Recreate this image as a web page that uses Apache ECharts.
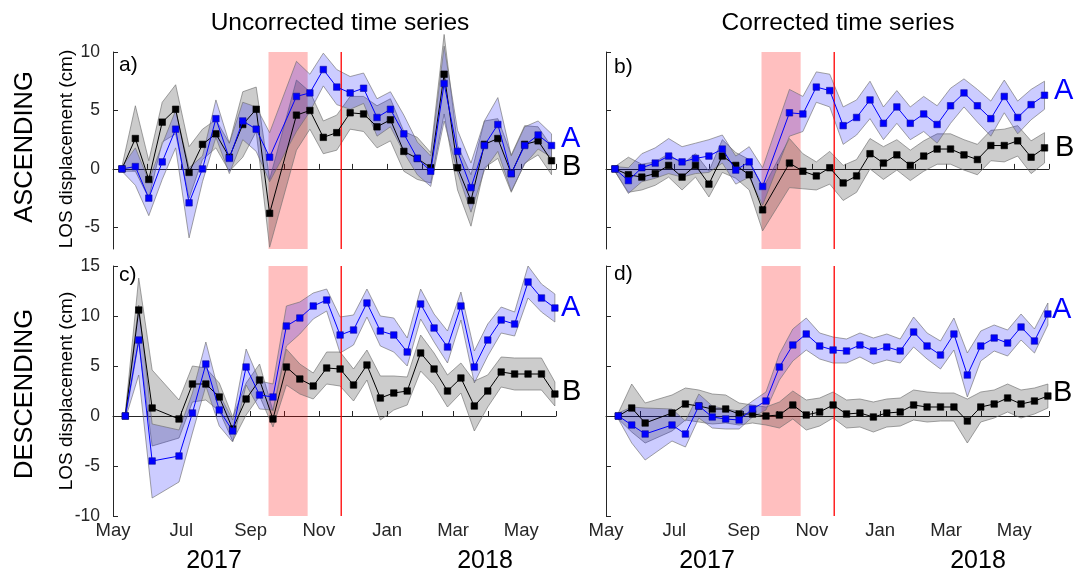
<!DOCTYPE html>
<html><head><meta charset="utf-8">
<script src="https://cdn.jsdelivr.net/npm/echarts@6/dist/echarts.min.js"></script>
<style>html,body{margin:0;padding:0;background:#fff}#c{width:1084px;height:573px}</style>
</head><body><div id="c"></div>
<script>
const ascDates = ['2017-05-09','2017-05-21','2017-06-02','2017-06-14','2017-06-26','2017-07-08','2017-07-20','2017-08-01','2017-08-13','2017-08-25','2017-09-06','2017-09-18','2017-10-12','2017-10-24','2017-11-05','2017-11-17','2017-11-29','2017-12-11','2017-12-23','2018-01-04','2018-01-16','2018-01-28','2018-02-09','2018-02-21','2018-03-05','2018-03-17','2018-03-29','2018-04-10','2018-04-22','2018-05-04','2018-05-16','2018-05-28'];
const descDates = ['2017-05-12','2017-05-24','2017-06-05','2017-06-29','2017-07-11','2017-07-23','2017-08-04','2017-08-16','2017-08-28','2017-09-09','2017-09-21','2017-10-03','2017-10-15','2017-10-27','2017-11-08','2017-11-20','2017-12-02','2017-12-14','2017-12-26','2018-01-07','2018-01-19','2018-01-31','2018-02-12','2018-02-24','2018-03-08','2018-03-20','2018-04-01','2018-04-13','2018-04-25','2018-05-07','2018-05-19','2018-05-31'];

// a) ascending, uncorrected
const aA = [0, 0.2, -2.5, 0.6, 3.4, -2.9, 0.0, 4.3, 0.9, 4.1, 3.4, 1.0, 6.2, 6.5, 8.5, 7.0, 6.5, 6.9, 4.4, 5.1, 3.0, 0.9, -0.2, 7.3, 1.5, -1.6, 2.0, 3.8, -0.4, 2.0, 2.9, 2.0];
const aB = [0, 2.6, -0.9, 4.0, 5.1, -0.3, 2.1, 3.0, 1.0, 3.8, 5.1, -3.8, 4.6, 5.0, 2.7, 3.1, 4.8, 4.7, 3.6, 4.2, 1.5, 0.9, 0.1, 8.1, 0.1, -2.7, 2.1, 2.6, -0.4, 2.1, 2.4, 0.7];
const aAerr = [0.2, 1.6, 1.5, 1.5, 1.6, 3.0, 1.1, 1.6, 1.3, 1.6, 1.9, 2.1, 3.0, 1.6, 1.4, 1.5, 1.4, 1.3, 1.6, 1.5, 1.6, 1.4, 1.3, 3.2, 1.8, 2.1, 2.1, 2.3, 1.5, 1.6, 1.2, 1.0];
const aBerr = [0.2, 2.8, 1.6, 1.7, 2.1, 2.2, 1.3, 1.2, 1.2, 2.8, 1.9, 2.9, 3.0, 1.6, 1.4, 1.5, 1.4, 1.5, 1.8, 1.8, 1.7, 1.8, 1.3, 3.4, 1.9, 2.2, 2.0, 1.7, 1.6, 1.6, 1.2, 1.2];
// b) ascending, corrected
const bA = [0, -1.0, 0.1, 0.5, 1.1, 0.6, 0.9, 1.1, 1.7, -0.1, 0.6, -1.5, 4.8, 4.7, 7.0, 6.7, 3.7, 4.4, 5.9, 3.9, 5.3, 3.9, 4.7, 3.8, 5.4, 6.5, 5.4, 4.3, 6.2, 4.4, 5.5, 6.3];
const bB = [0, -0.5, -0.7, -0.4, 0.3, -0.7, 0.3, -1.3, 1.1, 0.3, -0.5, -3.5, 0.5, -0.2, -0.6, 0.1, -1.2, -0.6, 1.3, 0.5, 1.2, 0.3, 1.1, 1.7, 1.7, 1.2, 0.8, 2.0, 2.0, 2.4, 1.0, 1.8];
const bAerr = [0.2, 1.1, 1.2, 1.3, 1.5, 1.3, 1.3, 1.4, 1.2, 1.2, 1.3, 1.6, 2.0, 1.5, 1.3, 1.4, 1.6, 1.5, 1.6, 1.4, 1.4, 1.4, 1.5, 1.6, 1.5, 1.2, 1.4, 1.5, 1.4, 1.4, 1.3, 1.2];
const bBerr = [0.2, 1.5, 1.1, 1.0, 1.0, 1.1, 1.0, 1.1, 1.4, 1.1, 1.3, 1.8, 2.1, 1.5, 1.2, 1.4, 1.5, 1.4, 1.3, 1.4, 1.3, 1.3, 1.3, 1.3, 1.3, 1.3, 1.3, 1.3, 1.4, 1.3, 1.4, 1.3];
// c) descending, uncorrected
const cA = [0, 7.6, -4.5, -4.0, 0.3, 5.2, 0.6, -1.5, 4.9, 2.1, 1.9, 9.0, 9.8, 11.0, 11.6, 8.1, 8.6, 11.3, 8.5, 8.1, 6.4, 11.2, 8.8, 6.9, 11.0, 4.9, 7.6, 9.6, 9.2, 13.4, 11.8, 10.8];
const cB = [0, 10.6, 0.8, -0.3, 3.2, 3.2, 1.9, -1.3, 1.7, 3.6, -0.3, 4.9, 3.7, 3.0, 4.8, 4.7, 3.1, 5.1, 1.8, 2.3, 2.5, 6.3, 4.7, 2.5, 3.8, 1.0, 2.5, 4.4, 4.2, 4.2, 4.2, 2.2];
const cAerr = [0.3, 3.5, 3.7, 2.6, 2.0, 2.2, 1.6, 1.1, 1.8, 1.4, 1.3, 2.0, 1.6, 1.3, 1.1, 1.8, 1.5, 1.4, 1.5, 1.7, 1.4, 1.5, 1.4, 1.6, 1.4, 1.6, 1.6, 1.3, 1.2, 1.6, 1.4, 1.4];
const cBerr = [0.3, 3.2, 3.8, 1.9, 1.8, 1.6, 1.4, 1.2, 1.6, 1.6, 0.8, 1.8, 1.5, 1.3, 1.6, 1.7, 1.6, 1.5, 2.2, 1.7, 1.4, 1.8, 1.6, 1.6, 1.5, 2.5, 1.6, 1.5, 1.6, 1.6, 1.6, 1.2];
// d) descending, corrected
const dA = [0, -0.9, -1.8, -0.9, -1.8, 1.0, -0.1, -0.3, -0.4, 0.7, 1.5, 4.9, 7.1, 8.2, 7.0, 6.6, 6.5, 7.1, 6.5, 6.9, 6.5, 8.4, 7.0, 6.1, 8.2, 4.1, 7.0, 7.8, 7.3, 8.9, 7.5, 10.2];
const dB = [0, 0.8, -0.7, 0.3, 1.2, 1.0, 0.7, 0.7, 0.2, 0.2, 0.0, 0.1, 1.1, 0.1, 0.4, 1.1, 0.2, 0.3, -0.1, 0.3, 0.4, 1.1, 0.9, 0.9, 0.9, -0.5, 0.9, 1.2, 1.8, 1.2, 1.5, 2.0];
const dAerr = [0.3, 1.8, 2.6, 1.6, 1.3, 1.2, 1.1, 1.0, 0.9, 0.8, 0.9, 1.3, 1.6, 1.6, 1.3, 1.3, 1.2, 1.2, 1.3, 1.3, 1.2, 1.5, 1.3, 1.4, 1.6, 2.2, 1.5, 1.3, 1.3, 1.3, 1.2, 1.1];
const dBerr = [0.3, 2.4, 2.0, 1.8, 1.6, 1.6, 1.5, 1.4, 1.1, 0.9, 0.9, 1.3, 1.4, 1.5, 1.4, 1.3, 1.4, 1.4, 1.5, 1.4, 1.4, 1.5, 1.5, 1.4, 1.4, 2.2, 1.5, 1.4, 1.4, 1.4, 1.3, 1.2];

const monthTicks = ['2017-05-01','2017-06-01','2017-07-01','2017-08-01','2017-09-01','2017-10-01','2017-11-01','2017-12-01','2018-01-01','2018-02-01','2018-03-01','2018-04-01','2018-05-01','2018-06-01'];
const labelTicks = ['2017-05-01','2017-07-01','2017-09-01','2017-11-01','2018-01-01','2018-03-01','2018-05-01'];
const labelNames = ['May','Jul','Sep','Nov','Jan','Mar','May'];
const yTicksTop = [-5, 0, 5, 10];
const yTicksBottom = [-10, -5, 0, 5, 10, 15];
const shadeStart = '2017-09-17', shadeEnd = '2017-10-22', eventDate = '2017-11-21';

const T = s => Date.parse(s);
const FONT = "'Liberation Sans', Arial, sans-serif";
const AX = '#262626';
const RED = '#ff0000';
const xMin = T('2017-05-01'), xMax = T('2018-06-01');

const grids = [
  {left:113, top:52, width:443, height:197},
  {left:606, top:52, width:443, height:197},
  {left:113, top:266, width:443, height:250},
  {left:606, top:266, width:443, height:250}
];
const yRanges = [[-6.85,10],[-6.85,10],[-10,15],[-10,15]];
const yTicks = [yTicksTop, yTicksTop, yTicksBottom, yTicksBottom];

const xAxes = grids.map((g,i)=>({
  type:'value', gridIndex:i, min:xMin, max:xMax,
  axisLine:{show:true, lineStyle:{color:AX, width:1}},
  axisTick:{show:true, inside:true, length:5, lineStyle:{color:AX}, customValues: monthTicks.map(T)},
  axisLabel:{show: i>=2, customValues: labelTicks.map(T), color:AX, fontSize:18.5, fontFamily:FONT, margin:5,
    formatter: v => { const k = labelTicks.map(T).indexOf(v); return k>=0 ? labelNames[k] : ''; }},
  splitLine:{show:false}
}));
const yAxes = grids.map((g,i)=>({
  type:'value', gridIndex:i, min:yRanges[i][0], max:yRanges[i][1],
  axisLine:{show:true, lineStyle:{color:AX, width:1}},
  axisTick:{show:true, inside:true, length:5, lineStyle:{color:AX}, customValues: yTicks[i]},
  axisLabel:{show: i%2===0, customValues: yTicks[i], color:AX, fontSize:17.5, fontFamily:FONT, margin:13},
  splitLine:{show:false}
}));

function band(gi, dates, vals, err, fill, z){
  const data = dates.map((d,k)=>[T(d), vals[k]-err[k], vals[k]+err[k]]);
  return {
    type:'custom', xAxisIndex:gi, yAxisIndex:gi, z:z, silent:true, clip:false,
    encode:{x:0, y:[1,2]}, data:data,
    renderItem:(params, api)=>{
      if(params.dataIndex!==0) return null;
      const up = data.map(p=>api.coord([p[0], p[2]]));
      const lo = data.map(p=>api.coord([p[0], p[1]])).reverse();
      return {type:'polygon', shape:{points: up.concat(lo)},
        style:{fill:fill, stroke:'rgba(110,110,110,0.8)', lineWidth:0.8}};
    }
  };
}
function line(gi, dates, vals, color, z){
  return {
    type:'line', xAxisIndex:gi, yAxisIndex:gi, z:z, silent:true,
    data: dates.map((d,k)=>[T(d), vals[k]]),
    symbol:'rect', symbolSize:6.5, showAllSymbol:true,
    lineStyle:{color:color, width:1},
    itemStyle:{color:color, borderColor: color==='#0000ff' ? '#1010a0' : '#000', borderWidth:0.6}
  };
}
// shaded period (rectangle spanning the full y range)
function shade(gi){
  const yr = yRanges[gi];
  return {
    type:'custom', xAxisIndex:gi, yAxisIndex:gi, z:1, silent:true,
    encode:{x:[0,1]}, data:[[T(shadeStart), T(shadeEnd)]],
    renderItem:(params, api)=>{
      const p0 = api.coord([api.value(0), yr[1]]);
      const p1 = api.coord([api.value(1), yr[0]]);
      return {type:'rect', shape:{x:p0[0], y:p0[1], width:p1[0]-p0[0], height:p1[1]-p0[1]},
        style:{fill:'rgba(255,0,0,0.25)'}};
    }
  };
}
// event line
function vline(gi){
  const yr = yRanges[gi];
  return {
    type:'custom', xAxisIndex:gi, yAxisIndex:gi, z:3.5, silent:true,
    encode:{x:0}, data:[[T(eventDate)]],
    renderItem:(params, api)=>{
      const p0 = api.coord([api.value(0), yr[1]]);
      const p1 = api.coord([api.value(0), yr[0]]);
      return {type:'line', shape:{x1:p0[0], y1:p0[1], x2:p0[0], y2:p1[1]},
        style:{stroke:RED, lineWidth:1.3}};
    }
  };
}

const BLUE_FILL = 'rgba(0,0,255,0.2)', GRAY_FILL = 'rgba(0,0,0,0.2)';
const panels = [
  [ascDates, aA, aB, aAerr, aBerr],
  [ascDates, bA, bB, bAerr, bBerr],
  [descDates, cA, cB, cAerr, cBerr],
  [descDates, dA, dB, dAerr, dBerr]
];
const series = [];
panels.forEach((p,gi)=>{
  series.push(shade(gi));
  series.push(band(gi, p[0], p[2], p[4], GRAY_FILL, 2));
  series.push(band(gi, p[0], p[1], p[3], BLUE_FILL, 3));
  series.push(vline(gi));
  series.push(line(gi, p[0], p[2], '#000000', 4));
  series.push(line(gi, p[0], p[1], '#0000ff', 5));
});

function txt(x,y,text,size,color,opts){
  return Object.assign({type:'text', x:x, y:y, silent:true,
    style:Object.assign({text:text, fontSize:size, fontFamily:FONT, fill:color||'#000', textAlign:'left', textVerticalAlign:'middle'}, opts||{})});
}
function vtxt(x,y,text,size){
  return Object.assign(txt(x, y, text, size, '#000', {textAlign:'center'}), {rotation:Math.PI/2});
}
const graphic = [
  txt(340, 23, 'Uncorrected time series', 24.5, '#000', {textAlign:'center'}),
  txt(838, 23, 'Corrected time series', 24.5, '#000', {textAlign:'center'}),
  vtxt(25, 147, 'ASCENDING', 25.5),
  vtxt(25, 394, 'DESCENDING', 25.5),
  vtxt(67, 149, 'LOS displacement (cm)', 19),
  vtxt(67, 391, 'LOS displacement (cm)', 19),
  txt(119, 65, 'a)', 21), txt(614, 67, 'b)', 21), txt(119, 275, 'c)', 21), txt(614, 274, 'd)', 21),
  txt(561, 139, 'A', 29, '#0000ff'), txt(562, 167, 'B', 29, '#000'),
  txt(1054, 91, 'A', 29, '#0000ff'), txt(1055, 148, 'B', 29, '#000'),
  txt(561, 308, 'A', 29, '#0000ff'), txt(562, 392, 'B', 29, '#000'),
  txt(1052, 310, 'A', 29, '#0000ff'), txt(1053, 393, 'B', 29, '#000'),
  txt(214, 561, '2017', 25, '#000', {textAlign:'center'}), txt(485, 561, '2018', 25, '#000', {textAlign:'center'}),
  txt(707, 561, '2017', 25, '#000', {textAlign:'center'}), txt(978, 561, '2018', 25, '#000', {textAlign:'center'})
];

const chart = echarts.init(document.getElementById('c'), null, {renderer:'canvas'});
chart.setOption({
  animation:false, backgroundColor:'#fff',
  grid: grids, xAxis: xAxes, yAxis: yAxes, series: series, graphic: graphic
});
</script></body></html>
